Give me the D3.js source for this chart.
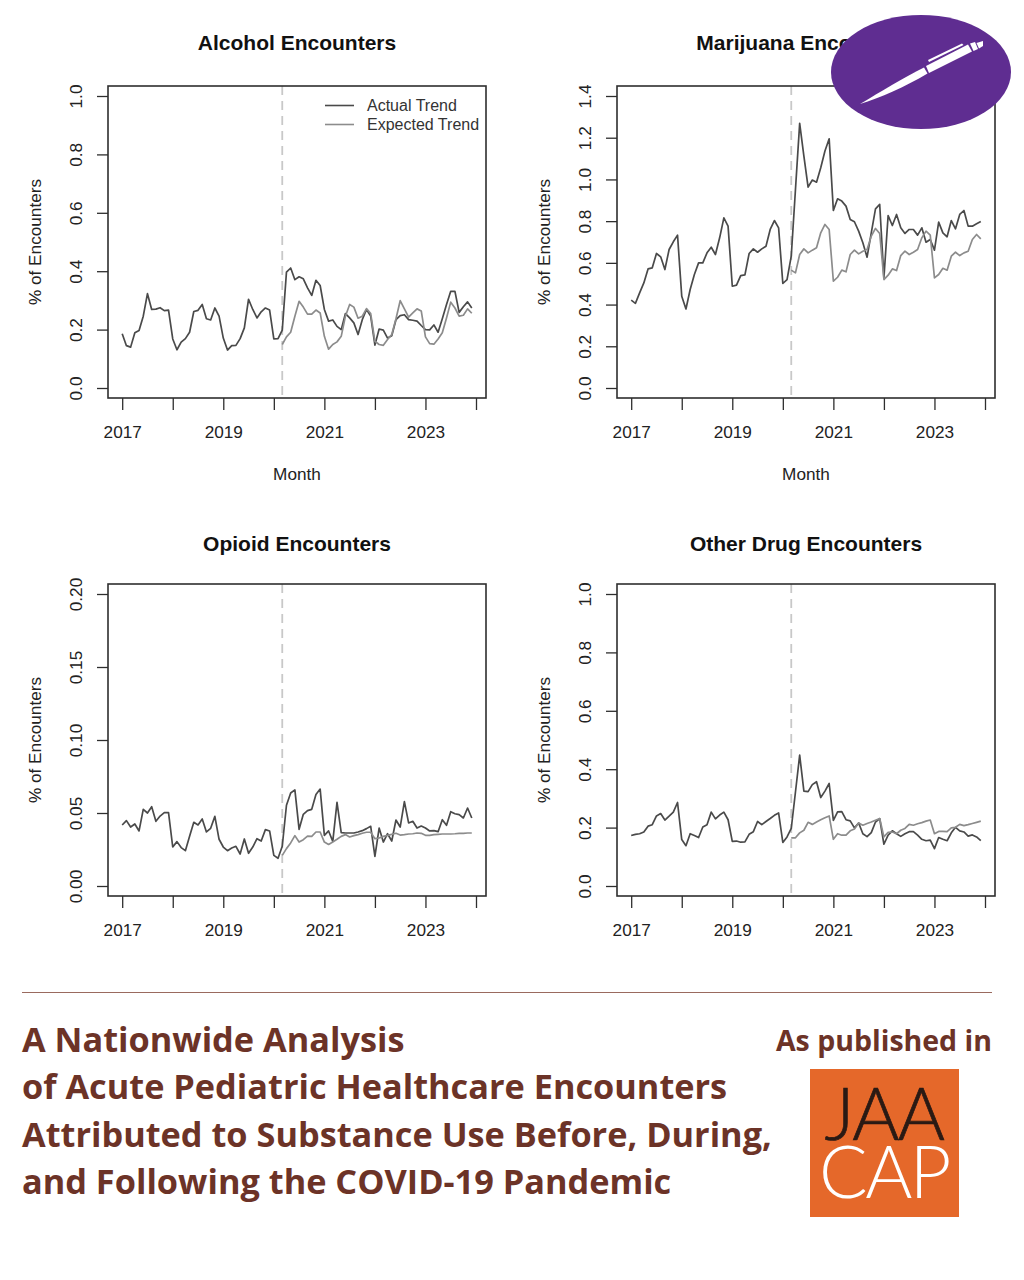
<!DOCTYPE html>
<html><head><meta charset="utf-8">
<script src="https://cdn.jsdelivr.net/npm/d3@7/dist/d3.min.js"></script>
<style>html,body{margin:0;padding:0;background:#fff}svg{display:block}</style>
</head><body><svg id="c" width="1024" height="1280"></svg>
<script>
const alcoholActual=[.186,.145,.14,.189,.197,.246,.323,.269,.27,.275,.265,.267,.168,.131,.157,.169,.191,.262,.266,.286,.237,.233,.274,.246,.171,.13,.145,.146,.169,.206,.304,.269,.24,.261,.274,.267,.168,.169,.198,.397,.411,.371,.381,.374,.343,.317,.369,.351,.269,.229,.233,.211,.2,.255,.24,.223,.183,.234,.269,.246,.147,.202,.198,.171,.179,.234,.248,.251,.234,.232,.229,.214,.2,.199,.216,.191,.237,.286,.331,.331,.259,.278,.295,.274];
const alcoholExpected=[.149,.175,.191,.246,.297,.277,.253,.253,.267,.257,.177,.133,.149,.158,.177,.246,.286,.277,.239,.246,.272,.255,.16,.149,.146,.166,.183,.237,.299,.271,.243,.257,.271,.264,.175,.152,.15,.168,.189,.24,.294,.274,.246,.249,.271,.256];
const marijuanaActual=[.421,.406,.456,.504,.571,.576,.645,.629,.568,.664,.701,.733,.44,.379,.472,.544,.6,.6,.648,.675,.64,.72,.816,.776,.488,.493,.539,.542,.645,.667,.651,.667,.68,.76,.803,.768,.501,.52,.632,.952,1.269,1.112,.963,.997,.987,1.056,1.136,1.195,.851,.907,.896,.872,.808,.797,.752,.696,.627,.744,.859,.88,.528,.827,.779,.832,.768,.741,.76,.76,.733,.768,.699,.712,.661,.795,.744,.725,.803,.763,.832,.851,.776,.776,.787,.798];
const marijuanaExpected=[.565,.552,.64,.667,.648,.661,.672,.744,.784,.76,.512,.531,.565,.557,.64,.661,.643,.656,.664,.728,.765,.741,.52,.541,.571,.563,.635,.656,.64,.651,.664,.72,.752,.733,.528,.544,.574,.565,.632,.651,.635,.648,.656,.712,.736,.715];
const opioidActual=[.0418,.0448,.0404,.0425,.0377,.0525,.05,.0543,.0443,.0479,.0502,.0502,.0267,.0304,.0263,.0242,.034,.0436,.0418,.0459,.037,.0395,.0477,.032,.0267,.0242,.026,.0272,.0219,.0322,.0224,.0267,.0324,.0308,.0386,.0377,.021,.019,.0272,.0553,.0637,.0658,.0388,.0491,.0516,.0525,.0626,.0664,.0347,.0377,.0306,.0573,.0365,.0363,.0363,.0363,.037,.0379,.0393,.0409,.0203,.0397,.0301,.0358,.0308,.0452,.0404,.0578,.0432,.0443,.0397,.0411,.0397,.0377,.0379,.0372,.0454,.0416,.0509,.0495,.0489,.0466,.0534,.0466];
const opioidExpected=[.021,.0256,.0295,.0345,.0301,.0317,.0342,.034,.037,.037,.0301,.0285,.0301,.032,.034,.0352,.0336,.0345,.0352,.0361,.0368,.0368,.0324,.0329,.034,.0347,.0354,.0361,.0349,.0352,.0356,.0358,.0363,.0361,.0347,.0347,.0352,.0354,.0356,.0356,.0356,.0358,.0361,.0361,.0363,.0363];
const otherActual=[.173,.177,.179,.185,.205,.21,.24,.248,.226,.239,.253,.286,.159,.138,.179,.173,.166,.202,.21,.253,.23,.243,.253,.227,.153,.154,.15,.151,.177,.186,.221,.21,.221,.231,.242,.25,.149,.168,.197,.322,.448,.325,.323,.347,.357,.303,.325,.351,.225,.254,.255,.227,.223,.199,.216,.179,.169,.183,.219,.231,.143,.174,.189,.179,.17,.179,.186,.186,.174,.16,.155,.157,.128,.166,.16,.155,.182,.201,.189,.185,.171,.175,.168,.155];
const otherExpected=[.165,.165,.182,.191,.218,.211,.219,.227,.234,.24,.16,.179,.174,.174,.189,.195,.216,.208,.214,.219,.225,.231,.168,.184,.185,.179,.191,.197,.211,.208,.213,.217,.222,.226,.179,.187,.187,.186,.199,.201,.211,.207,.21,.214,.218,.222];
const panelTitles=["Alcohol Encounters","Marijuana Encounters","Opioid Encounters","Other Drug Encounters"];
const yTicksA=[0,.2,.4,.6,.8,1];
const yTicksB=[0,.2,.4,.6,.8,1,1.2,1.4];
const yTicksC=[0,.05,.1,.15,.2];
const xTicks=[2017,2018,2019,2020,2021,2022,2023,2024];
const xLabels=[2017,2019,2021,2023];
const legendLabels=["Actual Trend","Expected Trend"];
const interventionYear=2020+2/12;
const expectedStart=38;
const footerLines=["A Nationwide Analysis","of Acute Pediatric Healthcare Encounters","Attributed to Substance Use Before, During,","and Following the COVID-19 Pandemic"];

const DARK="#4a4a4a",GREY="#8c8c8c",FRAME="#2e2e2e",TXT="#222";
const FONT="'Liberation Sans',Arial,sans-serif",FS=17.2;
const svg=d3.select("#c");
svg.append("rect").attr("width",1024).attr("height",1280).attr("fill","#fff");

const panels=[
 {t:0,x:108,y:86,act:alcoholActual,exp:alcoholExpected,ticks:yTicksA,fmt:d3.format(".1f"),max:1,month:true,legend:true,ty:-36},
 {t:1,x:617,y:86,act:marijuanaActual,exp:marijuanaExpected,ticks:yTicksB,fmt:d3.format(".1f"),max:1.4,month:true,ty:-36},
 {t:2,x:108,y:584,act:opioidActual,exp:opioidExpected,ticks:yTicksC,fmt:d3.format(".2f"),max:.2,ty:-33},
 {t:3,x:617,y:584,act:otherActual,exp:otherExpected,ticks:yTicksA,fmt:d3.format(".1f"),max:1,ty:-33}
];
const W=378,H=312;
panels.forEach(p=>{
 const g=svg.append("g").attr("transform",`translate(${p.x},${p.y})`);
 const x=d3.scaleLinear().domain([2017,2024]).range([14.2,368]);
 const y=d3.scaleLinear().domain([0,p.max]).range([302,10]);
 const line=d3.line().x(d=>x(d[0])).y(d=>y(d[1]));
 const mx=i=>2017+i/12;
 const ax=g.append("g").attr("transform",`translate(0,${H})`)
   .call(d3.axisBottom(x).tickValues(xTicks).tickSize(12).tickFormat(d=>xLabels.includes(d)?d:""));
 ax.select(".domain").remove();
 ax.selectAll("line").attr("stroke",FRAME).attr("stroke-width",1.3);
 ax.selectAll("text").attr("font-family",FONT).attr("font-size",FS).attr("fill",TXT).attr("dy",0).attr("y",39.5);
 const ay=g.append("g").call(d3.axisLeft(y).tickValues(p.ticks).tickSize(11).tickFormat(p.fmt));
 ay.select(".domain").remove();
 ay.selectAll("line").attr("stroke",FRAME).attr("stroke-width",1.3);
 ay.selectAll("text").attr("font-family",FONT).attr("font-size",FS).attr("fill",TXT)
   .attr("dy",0).attr("text-anchor","middle").attr("x",0).attr("y",0)
   .attr("transform","translate(-26,0) rotate(-90)");
 g.append("line").attr("x1",x(interventionYear)).attr("x2",x(interventionYear)).attr("y1",0).attr("y2",H)
   .attr("stroke","#c8c8c8").attr("stroke-width",1.8).attr("stroke-dasharray","9,6");
 g.append("path").datum(p.act.map((v,i)=>[mx(i),v])).attr("d",line).attr("fill","none").attr("stroke",DARK).attr("stroke-width",1.7).attr("stroke-linejoin","round");
 g.append("path").datum(p.exp.map((v,i)=>[mx(i+expectedStart),v])).attr("d",line).attr("fill","none").attr("stroke",GREY).attr("stroke-width",1.7).attr("stroke-linejoin","round");
 g.append("rect").attr("width",W).attr("height",H).attr("fill","none").attr("stroke",FRAME).attr("stroke-width",1.6);
 g.append("text").attr("x",W/2).attr("y",p.ty).attr("text-anchor","middle").attr("font-family",FONT).attr("font-weight",700).attr("font-size",21).attr("fill","#111").text(panelTitles[p.t]);
 g.append("text").attr("transform",`translate(-67,${H/2}) rotate(-90)`).attr("text-anchor","middle").attr("font-family",FONT).attr("font-size",FS).attr("fill",TXT).text("% of Encounters");
 if(p.month) g.append("text").attr("x",W/2).attr("y",H+82).attr("text-anchor","middle").attr("font-family",FONT).attr("font-size",FS).attr("fill",TXT).text("Month");
 if(p.legend){
  legendLabels.forEach((l,i)=>{
   const ly=19.5+i*19;
   g.append("line").attr("x1",217).attr("x2",246).attr("y1",ly).attr("y2",ly).attr("stroke",i?GREY:DARK).attr("stroke-width",1.6);
   g.append("text").attr("x",259).attr("y",ly+5.5).attr("font-family",FONT).attr("font-size",16).attr("fill","#333").text(l);
  });
 }
});

// Pen badge
const badge=svg.append("g");
badge.append("ellipse").attr("cx",921).attr("cy",72).attr("rx",90).attr("ry",57).attr("fill","#5f2d91");
badge.append("path").attr("fill","#fff").attr("d","M860,104 C880,92 905,77 924,67.5 L927.5,73.5 C905,87 880,98 860,104 Z");
badge.append("path").attr("fill","#fff").attr("d","M926,66 L968,44.5 L972,51.5 L929,73 Z");
badge.append("path").attr("fill","#fff").attr("d","M970,43.5 L975,42 L978,49 L973.5,51 Z");
badge.append("path").attr("fill","#fff").attr("d","M976.5,43 L983,41 L983,46 L979,48.5 Z");
badge.append("path").attr("fill","#fff").attr("d","M928,60 L962,43.5 L963.5,45 L929,62 Z");

// Footer
svg.append("line").attr("x1",22).attr("x2",992).attr("y1",992.5).attr("y2",992.5).attr("stroke","#9a6a5e").attr("stroke-width",1);
const FF="'Open Sans',sans-serif",FC="#6c3327";
footerLines.forEach((t,i)=>{
 svg.append("text").attr("x",22).attr("y",1052+i*47.4).attr("font-family",FF).attr("font-weight",700).attr("font-size",34.3).attr("fill",FC).text(t);
});
svg.append("text").attr("x",992).attr("y",1051).attr("text-anchor","end").attr("font-family",FF).attr("font-weight",700).attr("font-size",28.5).attr("fill",FC).text("As published in");
svg.append("rect").attr("x",810).attr("y",1069).attr("width",149).attr("height",148).attr("fill","#e5682a");
svg.append("text").attr("x",884).attr("y",1140).attr("text-anchor","middle").attr("font-family","Lato,sans-serif").attr("font-weight",300).attr("font-size",72).attr("letter-spacing",-1.5).attr("fill","#2a1a14").attr("stroke","#2a1a14").attr("stroke-width",0.7).text("JAA");
svg.append("text").attr("x",884).attr("y",1198).attr("text-anchor","middle").attr("font-family","Lato,sans-serif").attr("font-weight",300).attr("font-size",72).attr("letter-spacing",-2.5).attr("fill","#fff").text("CAP");
</script></body></html>
